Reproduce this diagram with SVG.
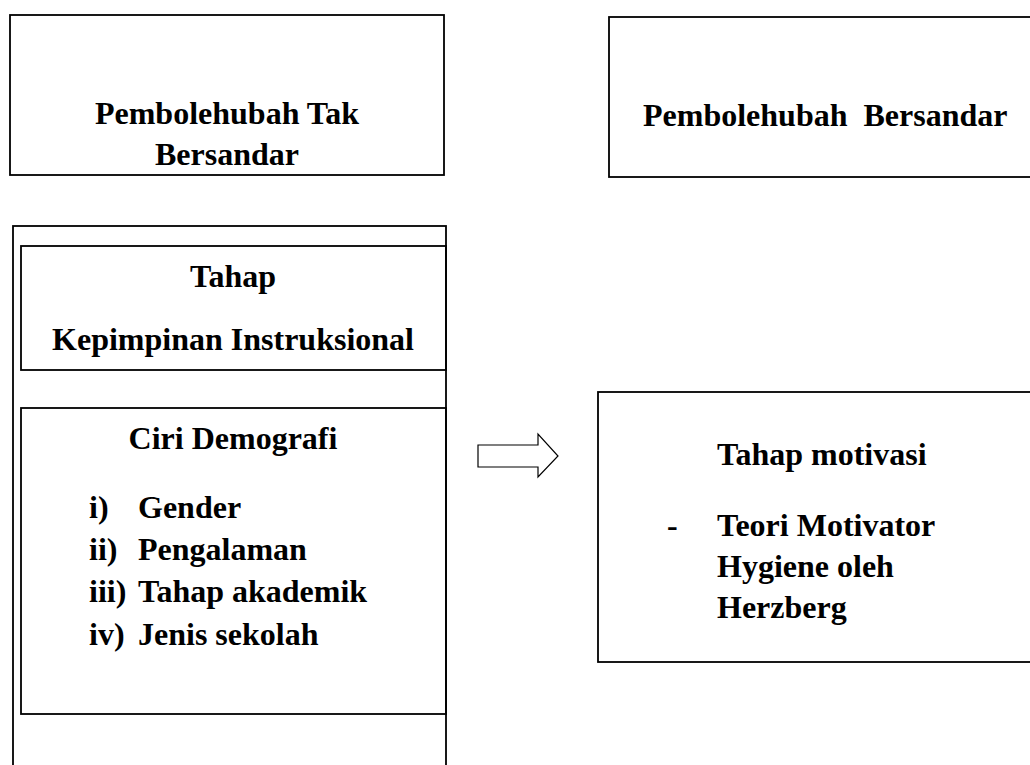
<svg xmlns="http://www.w3.org/2000/svg" width="1030" height="765" viewBox="0 0 1030 765">
<style>
.box{fill:none;stroke:#000;stroke-width:1.8}
.t{font-family:"Liberation Serif","Times New Roman",serif;font-weight:bold;font-size:32px;fill:#000}
.c{text-anchor:middle}
</style>
<rect width="1030" height="765" fill="#fff"/>
<g id="node-tak-bersandar">
<rect class="box" x="10" y="15" width="434" height="160"/>
<text class="t c" x="227" y="124">Pembolehubah Tak</text>
<text class="t c" x="227" y="165">Bersandar</text>
</g>
<g id="node-bersandar">
<rect class="box" x="609" y="17" width="440" height="160"/>
<text class="t" x="643" y="126" xml:space="preserve">Pembolehubah  Bersandar</text>
</g>
<g id="node-outer">
<rect class="box" x="13" y="226" width="433" height="560"/>
</g>
<g id="node-kepimpinan">
<rect class="box" x="21" y="246" width="425" height="124"/>
<text class="t c" x="233" y="287">Tahap</text>
<text class="t c" x="233" y="350">Kepimpinan Instruksional</text>
</g>
<g id="node-demografi">
<rect class="box" x="21" y="408" width="425" height="306"/>
<text class="t c" x="233" y="449">Ciri Demografi</text>
<text class="t" x="89" y="518">i)</text><text class="t" x="138" y="518">Gender</text>
<text class="t" x="89" y="560">ii)</text><text class="t" x="138" y="560">Pengalaman</text>
<text class="t" x="89" y="602">iii)</text><text class="t" x="138" y="602">Tahap akademik</text>
<text class="t" x="89" y="645">iv)</text><text class="t" x="138" y="645">Jenis sekolah</text>
</g>
<g id="connectors">
<path d="M478 445 H538 V434 L558 456 L538 477 V467 H478 Z" fill="#fff" stroke="#000" stroke-width="1.2" stroke-linejoin="miter"/>
</g>
<g id="node-motivasi">
<rect class="box" x="598" y="392" width="450" height="270"/>
<text class="t" x="717" y="465">Tahap motivasi</text>
<text class="t" x="667" y="536">-</text>
<text class="t" x="717" y="536">Teori Motivator</text>
<text class="t" x="717" y="577">Hygiene oleh</text>
<text class="t" x="717" y="618">Herzberg</text>
</g>
</svg>
